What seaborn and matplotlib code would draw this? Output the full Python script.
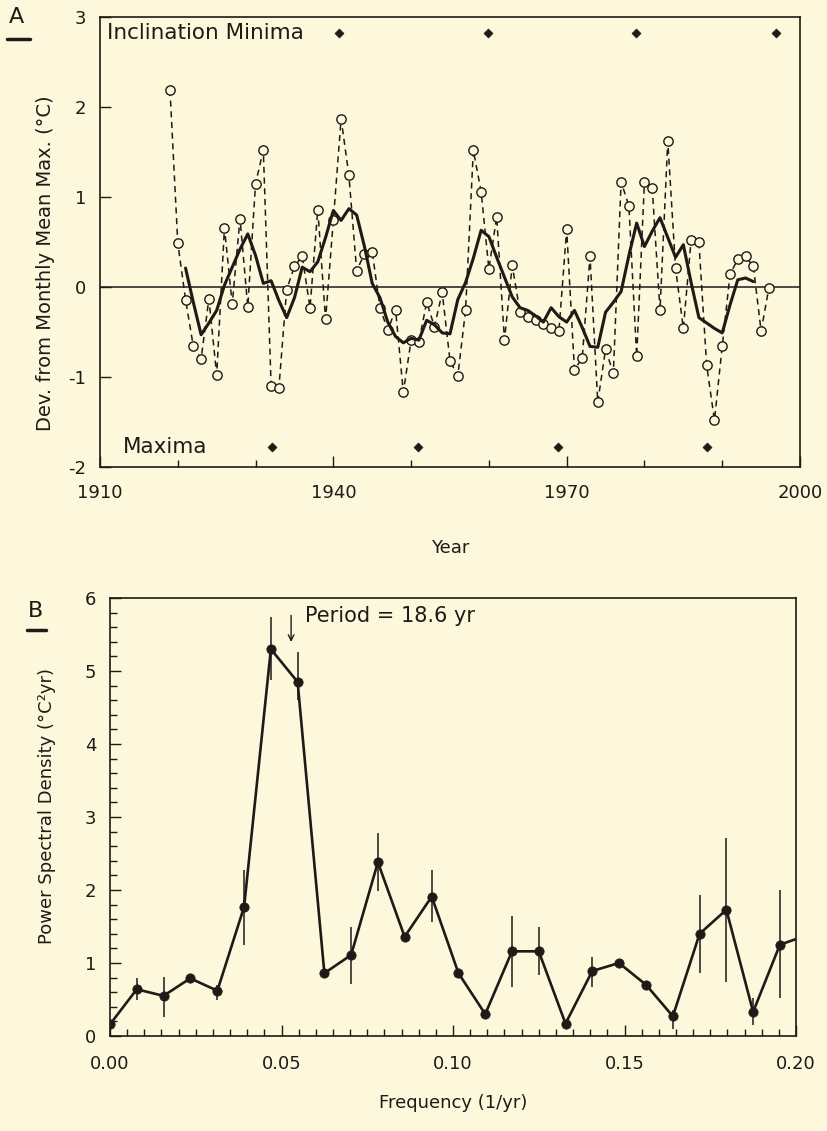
import numpy as np
import pandas as pd
import matplotlib
matplotlib.use('Agg')
import matplotlib.pyplot as plt
from matplotlib.lines import Line2D
from matplotlib.ticker import MultipleLocator, FormatStrFormatter
import seaborn as sns

# ---- panel A data: annual deviations and smoothed curve ----
years = list(range(1919, 1997))
annual_dev = [2.19, 0.49, -0.14, -0.66, -0.80, -0.13, -0.98, 0.66, -0.19, 0.76,
              -0.22, 1.15, 1.52, -1.10, -1.12, -0.03, 0.23, 0.34, -0.23, 0.86,
              -0.36, 0.74, 1.87, 1.24, 0.18, 0.37, 0.39, -0.23, -0.48, -0.25,
              -1.17, -0.59, -0.61, -0.17, -0.44, -0.06, -0.82, -0.99, -0.26, 1.52,
              1.06, 0.20, 0.78, -0.59, 0.24, -0.28, -0.33, -0.37, -0.41, -0.45,
              -0.49, 0.64, -0.92, -0.79, 0.34, -1.28, -0.69, -0.96, 1.17, 0.90,
              -0.77, 1.17, 1.10, -0.26, 1.62, 0.21, -0.46, 0.52, 0.50, -0.87,
              -1.48, -0.66, 0.14, 0.31, 0.34, 0.23, -0.49, -0.01]

smooth_years = list(range(1921, 1995))
smooth_dev = [0.21, -0.17, -0.53, -0.40, -0.26, 0.02, 0.22, 0.42, 0.59, 0.35,
              0.04, 0.07, -0.15, -0.34, -0.12, 0.22, 0.17, 0.28, 0.55, 0.85,
              0.74, 0.87, 0.80, 0.45, 0.04, -0.12, -0.39, -0.55, -0.62, -0.57,
              -0.59, -0.37, -0.42, -0.51, -0.52, -0.14, 0.05, 0.32, 0.63, 0.56,
              0.33, 0.11, -0.11, -0.23, -0.26, -0.32, -0.39, -0.23, -0.33, -0.39,
              -0.26, -0.45, -0.66, -0.67, -0.28, -0.17, -0.05, 0.35, 0.71, 0.45,
              0.62, 0.77, 0.55, 0.33, 0.47, 0.05, -0.34, -0.40, -0.46, -0.51,
              -0.20, 0.08, 0.10, 0.06]

minima_years = [1940.7, 1959.9, 1978.9, 1996.9]
maxima_years = [1932.1, 1950.9, 1968.9, 1988.0]
minima_level = 2.82
maxima_level = -1.78

# ---- panel B data: power spectrum ----
freq = [0.0000, 0.0078, 0.0156, 0.0234, 0.0313, 0.0391, 0.0469, 0.0547, 0.0625,
        0.0703, 0.0781, 0.0859, 0.0938, 0.1016, 0.1094, 0.1172, 0.1250, 0.1328,
        0.1406, 0.1484, 0.1563, 0.1641, 0.1719, 0.1797, 0.1875, 0.1953, 0.2031]
psd = [0.16, 0.64, 0.55, 0.79, 0.62, 1.77, 5.30, 4.85, 0.86, 1.11, 2.38, 1.36,
       1.91, 0.86, 0.30, 1.16, 1.16, 0.17, 0.89, 1.00, 0.70, 0.27, 1.40, 1.73,
       0.33, 1.25, 1.38]
err_lo = [np.nan, 0.49, 0.26, np.nan, 0.49, 1.25, 4.88, 4.60, np.nan, 0.71, 1.99,
          np.nan, 1.56, np.nan, np.nan, 0.67, 0.84, np.nan, 0.67, np.nan, np.nan,
          0.10, 0.86, 0.74, 0.15, 0.52, np.nan]
err_hi = [np.nan, 0.79, 0.81, np.nan, 0.70, 2.27, 5.74, 5.26, np.nan, 1.49, 2.78,
          np.nan, 2.27, np.nan, np.nan, 1.64, 1.49, np.nan, 1.08, np.nan, np.nan,
          0.35, 1.93, 2.71, 0.52, 2.00, np.nan]
period_freq = 0.0528

ink = '#1e1a16'
bg = '#fdf7dc'

sns.set_style('ticks')
plt.rcParams['font.family'] = ['DejaVu Sans']
plt.rcParams['axes.unicode_minus'] = False
plt.rcParams.update({'axes.edgecolor': ink, 'xtick.color': ink, 'ytick.color': ink,
                     'text.color': ink, 'axes.labelcolor': ink})

fig = plt.figure(figsize=(8.27, 11.31), dpi=100, facecolor=bg)
W, H = 827, 1131
axA = fig.add_axes([100 / W, 1 - 467 / H, 700 / W, 450 / H], facecolor=bg)
axB = fig.add_axes([110 / W, 1 - 1036 / H, 686 / W, 438 / H], facecolor=bg)

# ---- panel A ----
dfA = pd.DataFrame({'Year': years, 'Dev': annual_dev})
dfS = pd.DataFrame({'Year': smooth_years, 'Dev': smooth_dev})
axA.axhline(0, color=ink, lw=1.1, zorder=1)
sns.lineplot(data=dfA, x='Year', y='Dev', ax=axA, color=ink, lw=1.1,
             linestyle=(0, (4, 3)), zorder=2)
sns.lineplot(data=dfS, x='Year', y='Dev', ax=axA, color=ink, lw=2.2, zorder=4)
sns.scatterplot(data=dfA, x='Year', y='Dev', ax=axA, marker='o', s=45,
                color=bg, edgecolor=ink, linewidth=1.0, zorder=3)
sns.scatterplot(x=minima_years, y=[minima_level] * len(minima_years), ax=axA,
                marker='D', s=22, color=ink, edgecolor=ink, zorder=5)
sns.scatterplot(x=maxima_years, y=[maxima_level] * len(maxima_years), ax=axA,
                marker='D', s=22, color=ink, edgecolor=ink, zorder=5)
axA.text(1910.9, minima_level, 'Inclination Minima', fontsize=15.5, va='center')
axA.text(1912.9, maxima_level, 'Maxima', fontsize=15.5, va='center')

axA.set_xlim(1910, 2000)
axA.set_ylim(-2, 3)
axA.set_xticks([1910, 1940, 1970, 2000])
axA.xaxis.set_minor_locator(MultipleLocator(10))
axA.set_yticks([-2, -1, 0, 1, 2, 3])
axA.tick_params(axis='both', which='major', direction='in', length=8, width=1,
                labelsize=13)
axA.tick_params(axis='x', which='major', pad=12)
axA.tick_params(axis='y', which='major', pad=10)
axA.tick_params(axis='x', which='minor', direction='in', length=5, width=1)
axA.set_xlabel('Year', fontsize=13, labelpad=27)
axA.set_ylabel('Dev. from Monthly Mean Max. (°C)', fontsize=14)
axA.yaxis.set_label_coords(-0.064, 0.453)
for sp in axA.spines.values():
    sp.set_linewidth(1.2)

# ---- panel B ----
dfB = pd.DataFrame({'Frequency': freq, 'PSD': psd})
sns.lineplot(data=dfB, x='Frequency', y='PSD', ax=axB, color=ink, lw=1.9, zorder=3)
sns.scatterplot(data=dfB.iloc[:-1], x='Frequency', y='PSD', ax=axB, s=45,
                color=ink, edgecolor=ink, zorder=4)
axB.vlines(freq, err_lo, err_hi, color=ink, lw=1.1, zorder=2)
axB.annotate('', xy=(period_freq, 5.36), xytext=(period_freq, 5.80),
             arrowprops=dict(arrowstyle='->', lw=1.0, color=ink))
axB.text(0.0568, 5.76, 'Period = 18.6 yr', fontsize=15, va='center')

axB.set_xlim(0, 0.2)
axB.set_ylim(0, 6)
axB.xaxis.set_major_locator(MultipleLocator(0.05))
axB.xaxis.set_minor_locator(MultipleLocator(0.005))
axB.xaxis.set_major_formatter(FormatStrFormatter('%.2f'))
axB.yaxis.set_major_locator(MultipleLocator(1))
axB.yaxis.set_minor_locator(MultipleLocator(0.2))
axB.tick_params(axis='both', which='major', direction='in', length=8, width=1,
                labelsize=13)
axB.tick_params(axis='both', which='minor', direction='in', length=5, width=1)
axB.tick_params(axis='x', which='major', pad=14)
axB.tick_params(axis='y', which='major', pad=10)
axB.set_xlabel('Frequency (1/yr)', fontsize=13, labelpad=15)
axB.set_ylabel('Power Spectral Density (°C²yr)', fontsize=13)
axB.yaxis.set_label_coords(-0.079, 0.525)
for sp in axB.spines.values():
    sp.set_linewidth(1.2)

# panel letters with underline
fig.text(16 / W, 1 - 17 / H, 'A', fontsize=16, ha='center', va='center')
fig.add_artist(Line2D([7 / W, 30 / W], [1 - 39 / H, 1 - 39 / H], color=ink, lw=2.5))
fig.text(36 / W, 1 - 611 / H, 'B', fontsize=16, ha='center', va='center')
fig.add_artist(Line2D([27 / W, 46 / W], [1 - 630 / H, 1 - 630 / H], color=ink, lw=2.5))

fig.savefig('out.png', dpi=100, facecolor=bg)
